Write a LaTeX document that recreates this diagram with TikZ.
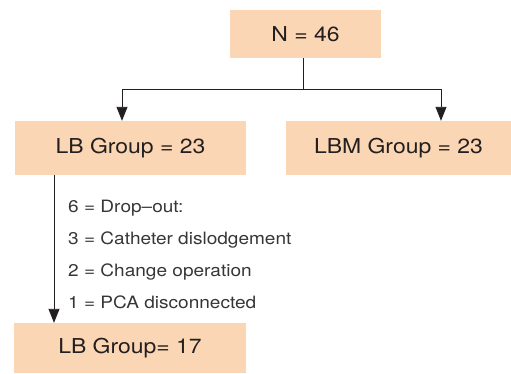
\documentclass[tikz,border=0pt]{standalone}
\usepackage{fontspec}
\setmainfont[FakeStretch=1.12]{TeX Gyre Heros}
\usetikzlibrary{arrows.meta}
\definecolor{peach}{RGB}{250,214,180}
\definecolor{ink}{RGB}{35,31,32}
\tikzset{
    box/.style={fill=peach, inner sep=0pt, text=ink, font=\fontsize{20.5}{24}\selectfont},
    conn/.style={draw=ink, line width=0.9pt},
    arr/.style={conn, -{Triangle[width=11pt,length=14pt]}},
}

\begin{document}
\begin{tikzpicture}[x=1pt, y=-1pt]
    \useasboundingbox (0,0) rectangle (511,373);
    % boxes
    \node[box, minimum width=151pt, minimum height=48pt] (top) at (305.5,34) {N = 46};
    \node[box, minimum width=231pt, minimum height=54pt] (lb) at (130.5,148) {LB Group = 23};
    \node[box, minimum width=225pt, minimum height=54pt] (lbm) at (398.5,148) {LBM Group = 23};
    \node[box, minimum width=232pt, minimum height=50pt] (lbend) at (130,348) {LB Group= 17};
    % split
    \coordinate (split) at (303.5,89);
    \draw[conn] ([xshift=-2pt]top.south) -- (split);
    \draw[arr] (split) -| ([xshift=-8.5pt]lb.north);
    \draw[arr] (split) -| ([xshift=42.5pt]lbm.north);
    % drop-out
    \draw[arr] ([xshift=-76.5pt]lb.south) -- ([xshift=-76pt]lbend.north);
    \node[anchor=west, align=left, inner sep=0pt, text=ink!90, font=\fontsize{17}{32}\selectfont] (drop) at (68,254)
        {6 = Drop–out:\\3 = Catheter dislodgement\\2 = Change operation\\1 = PCA disconnected};
\end{tikzpicture}
\end{document}
